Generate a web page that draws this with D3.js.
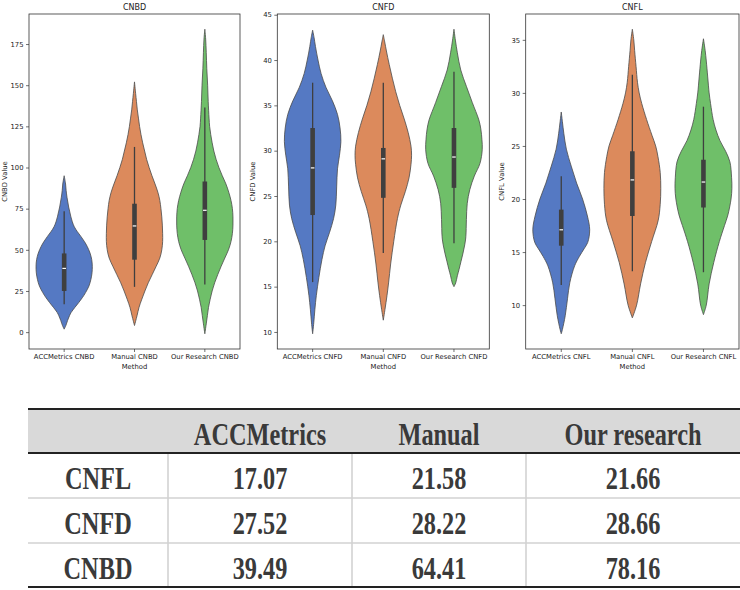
<!DOCTYPE html>
<html><head><meta charset="utf-8">
<script src="https://cdn.jsdelivr.net/npm/d3@7"></script>
<style>body{margin:0;background:#fff}svg{display:block}</style>
</head><body>
<svg id="c" width="740" height="590"></svg>
<script>
// ---------- DATA ----------
const metrics = ["CNBD", "CNFD", "CNFL"];
const methods = ["ACCMetrics", "Manual", "Our Research"];
const colors = ["#5579c3", "#dc8a5c", "#6fbf69"];

// violin outlines: [value, relative density]
const violinCNBD = [
  [[1.8,0],[4,.06],[7,.12],[10,.19],[12,.25],[15,.38],[18,.52],[21,.65],[24,.76],[28,.88],[32,.95],[36,.99],[40,1],[44,.98],[48,.92],[52,.82],[55,.72],[58,.6],[61,.47],[64,.36],[67,.29],[70,.24],[73,.2],[76,.16],[79,.13],[82,.1],[86,.07],[90,.05],[95,0]],
  [[4,0],[10,.09],[15,.16],[20,.26],[25,.37],[30,.49],[35,.63],[40,.77],[45,.9],[50,.97],[55,1],[60,1],[65,.99],[70,.97],[75,.94],[80,.9],[85,.83],[90,.73],[95,.62],[100,.52],[105,.43],[110,.36],[115,.29],[120,.23],[125,.18],[130,.14],[135,.1],[140,.07],[145,.04],[152,0]],
  [[-1,0],[5,.05],[10,.09],[15,.13],[20,.19],[25,.26],[30,.35],[35,.46],[40,.58],[45,.71],[50,.84],[55,.93],[60,.98],[65,1],[70,1],[75,.98],[80,.93],[85,.85],[90,.75],[95,.62],[100,.5],[105,.4],[110,.32],[115,.26],[120,.21],[125,.17],[130,.15],[140,.12],[150,.1],[160,.07],[170,.05],[178,.03],[184,0]]
];
const violinCNFD = [
  [[9.8,0],[11,.04],[12.5,.08],[14,.13],[16,.22],[18,.33],[19.5,.44],[21,.6],[22.5,.74],[24,.82],[26,.85],[28,.88],[29.5,.95],[31,1],[32.5,.97],[34,.88],[35.5,.7],[37,.47],[38.5,.3],[40,.19],[41.5,.1],[42.5,.05],[43.3,0]],
  [[11.3,0],[12.5,.06],[14,.13],[15.5,.19],[17.5,.26],[20,.37],[22.5,.5],[24,.62],[25.5,.78],[27,.91],[28.5,.98],[29.5,1],[30.5,.98],[32,.88],[33.5,.74],[35,.58],[36.5,.44],[38,.32],[39.5,.21],[41,.11],[42,.05],[42.8,0]],
  [[15,0],[15.4,.06],[16.2,.12],[16.9,.18],[17.8,.25],[18.7,.32],[19.6,.38],[20.5,.42],[22.4,.44],[24.2,.47],[25.7,.56],[27.2,.72],[28.6,.92],[30.1,1],[31.2,.99],[32.4,.95],[33.4,.88],[35.3,.65],[37.1,.44],[38.9,.24],[40.8,.12],[42.2,.05],[43.4,0]]
];
const violinCNFL = [
  [[7.3,0],[7.7,.04],[9,.14],[10.6,.22],[12.1,.3],[13.7,.47],[14.6,.64],[15.3,.8],[15.9,.93],[17.1,1],[18.4,.92],[20,.75],[21.5,.54],[23.1,.35],[24.7,.18],[26.2,.09],[27.3,.04],[28.2,0]],
  [[8.8,0],[10,.15],[12,.29],[14,.46],[16,.68],[18,.91],[19.5,.98],[21,1],[22.5,.98],[24,.9],[25,.82],[26,.69],[27.5,.5],[29,.33],[30,.24],[31,.18],[32.5,.13],[34,.08],[35,.05],[36,0]],
  [[9.1,0],[10,.1],[12,.2],[14,.36],[16,.56],[17.5,.74],[18.5,.86],[20,.97],[21,1],[22,.99],[23.5,.93],[24.5,.78],[25.5,.58],[26.5,.44],[27.5,.34],[29,.25],[30,.2],[31.5,.15],[33,.1],[34,.06],[35.1,0]]
];
// inner box: [whisker low, q1, median, q3, whisker high]
const boxCNBD = [[17,25,38.7,47.8,73.4],[27.5,44,64.5,78,112.5],[29,56,74,91.5,136.5]];
const boxCNFD = [[15.5,22.9,28.1,32.5,37.5],[18.7,24.8,29.1,30.3,37.5],[19.8,25.9,29.3,32.5,38.7]];
const boxCNFL = [[11.9,15.6,17.1,19.0,22.15],[13.2,18.4,21.8,24.5,31.7],[13.1,19.2,21.6,23.7,28.7]];
const ticksCNBD = [0,25,50,75,100,125,150,175];
const ticksCNFD = [10,15,20,25,30,35,40,45];
const ticksCNFL = [10,15,20,25,30,35];

// table
const tableCols = ["ACCMetrics", "Manual", "Our research"];
const tableRows = ["CNFL", "CNFD", "CNBD"];
const tableValues = [
  ["17.07", "21.58", "21.66"],
  ["27.52", "28.22", "28.66"],
  ["39.49", "64.41", "78.16"]
];

// ---------- DRAW ----------
const svg = d3.select("#c");
const panels = [
  {name:"CNBD", v:violinCNBD, b:boxCNBD, t:ticksCNBD, x0:29, x1:240},
  {name:"CNFD", v:violinCNFD, b:boxCNFD, t:ticksCNFD, x0:277.3, x1:489.3},
  {name:"CNFL", v:violinCNFL, b:boxCNFL, t:ticksCNFL, x0:525.7, x1:739}
];
const plotTop = 14, plotBottom = 349;
const FONT = "DejaVu Sans, sans-serif";

panels.forEach(p => {
  const all = p.v.flat().map(d => d[0]);
  const lo = d3.min(all), hi = d3.max(all), m = (hi - lo) * 0.05;
  const y = d3.scaleLinear().domain([lo - m, hi + m]).range([plotBottom, plotTop]);
  const cats = methods.map(mm => mm + " " + p.name);
  const x = d3.scaleBand().domain(cats).range([p.x0, p.x1]);
  const bw = x.bandwidth(), hw = bw * 0.4;
  const g = svg.append("g");

  p.v.forEach((prof, i) => {
    const cx = x(cats[i]) + bw / 2;
    const area = d3.area()
      .y(d => y(d[0]))
      .x0(d => cx - d[1] * hw)
      .x1(d => cx + d[1] * hw)
      .curve(d3.curveCatmullRom.alpha(0.5));
    g.append("path").attr("d", area(prof))
      .attr("fill", colors[i]).attr("stroke", "#4a4a4a").attr("stroke-width", 0.8);
    const s = p.b[i];
    g.append("line").attr("x1", cx).attr("x2", cx).attr("y1", y(s[0])).attr("y2", y(s[4]))
      .attr("stroke", "#3f3f3f").attr("stroke-width", 1.3);
    g.append("rect").attr("x", cx - 2.3).attr("width", 4.6)
      .attr("y", y(s[3])).attr("height", y(s[1]) - y(s[3])).attr("fill", "#3f3f3f");
    g.append("line").attr("x1", cx - 1.8).attr("x2", cx + 1.8).attr("y1", y(s[2])).attr("y2", y(s[2]))
      .attr("stroke", "#ffffff").attr("stroke-width", 1.2);
  });

  // axes
  const ya = g.append("g").attr("transform", `translate(${p.x0},0)`)
    .call(d3.axisLeft(y).tickValues(p.t).tickSize(3).tickPadding(2.5));
  const xa = g.append("g").attr("transform", `translate(0,${plotBottom})`)
    .call(d3.axisBottom(x).tickSize(3).tickPadding(2.5));
  [ya, xa].forEach(a => {
    a.select(".domain").remove();
    a.selectAll("line").attr("stroke", "#333").attr("stroke-width", 0.7);
    a.selectAll("text").attr("font-family", FONT).attr("font-size", 6.8).attr("fill", "#222");
  });
  g.append("rect").attr("x", p.x0).attr("y", plotTop).attr("width", p.x1 - p.x0).attr("height", plotBottom - plotTop)
    .attr("fill", "none").attr("stroke", "#333").attr("stroke-width", 0.8);
  g.append("text").attr("x", (p.x0 + p.x1) / 2).attr("y", 10).attr("text-anchor", "middle")
    .attr("font-family", FONT).attr("font-size", 8).attr("fill", "#222").text(p.name);
  g.append("text").attr("x", (p.x0 + p.x1) / 2).attr("y", 369).attr("text-anchor", "middle")
    .attr("font-family", FONT).attr("font-size", 6.8).attr("fill", "#222").text("Method");
  const yl = p.x0 - 22;
  g.append("text").attr("transform", `translate(${yl},${(plotTop + plotBottom) / 2}) rotate(-90)`)
    .attr("text-anchor", "middle").attr("font-family", FONT).attr("font-size", 6.8).attr("fill", "#222")
    .text(p.name + " Value");
});

// ---------- TABLE ----------
const colX = [28, 168, 352, 526, 740];
const rowY = [409, 453, 498, 543, 587];
const tg = svg.append("g");
tg.append("rect").attr("x", colX[0]).attr("y", rowY[0]).attr("width", colX[4] - colX[0]).attr("height", rowY[1] - rowY[0]).attr("fill", "#d9d9d9");
[rowY[2], rowY[3]].forEach(yy => tg.append("line").attr("x1", colX[0]).attr("x2", colX[4]).attr("y1", yy).attr("y2", yy).attr("stroke", "#d2d2d2").attr("stroke-width", 1.6));
[colX[1], colX[2], colX[3]].forEach(xx => tg.append("line").attr("x1", xx).attr("x2", xx).attr("y1", rowY[1]).attr("y2", rowY[4]).attr("stroke", "#d2d2d2").attr("stroke-width", 1.6));
[rowY[0], rowY[1], rowY[4]].forEach(yy => tg.append("line").attr("x1", colX[0]).attr("x2", colX[4]).attr("y1", yy).attr("y2", yy).attr("stroke", "#222").attr("stroke-width", 2.2));

function cellText(cx, base, txt) {
  tg.append("text").attr("transform", `translate(${cx},${base}) scale(0.76,1)`)
    .attr("text-anchor", "middle").attr("font-family", "Liberation Serif, Times New Roman, serif")
    .attr("font-weight", "bold").attr("font-size", 32).attr("fill", "#3a3a3a").text(txt);
}
tableCols.forEach((c, j) => cellText((colX[j + 1] + colX[j + 2]) / 2, 444.5, c));
tableRows.forEach((r, i) => {
  const base = (rowY[i + 1] + rowY[i + 2]) / 2 + 13.5;
  cellText((colX[0] + colX[1]) / 2, base, r);
  tableValues[i].forEach((v, j) => cellText((colX[j + 1] + colX[j + 2]) / 2, base, v));
});
</script>
</body></html>
